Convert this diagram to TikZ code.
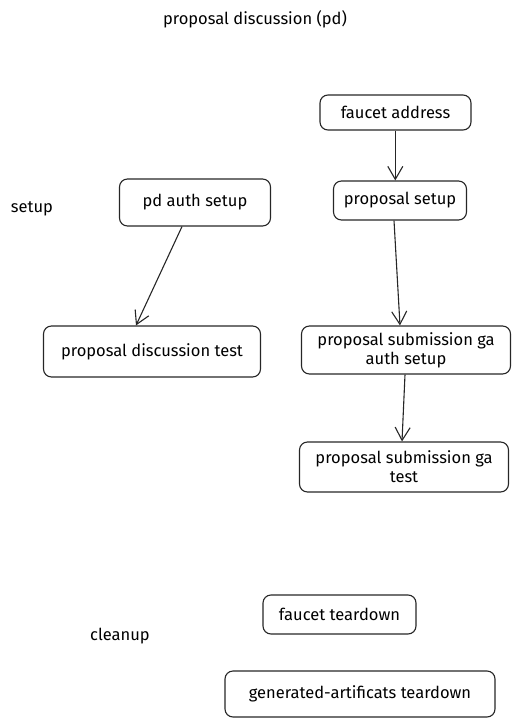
\documentclass[tikz,border=0pt]{standalone}
\usepackage{fontspec}
\setmainfont{Fira Sans}
\usetikzlibrary{arrows.meta}
\begin{document}
\begin{tikzpicture}[x=1pt,y=-1pt,
  box/.style={draw=black!85,line width=1.1pt,rounded corners=8pt,align=center,font=\fontsize{16.5}{19}\selectfont,inner sep=0pt},
  lbl/.style={font=\fontsize{16.5}{19}\selectfont},
  conn/.style={draw=black!85,line width=1.1pt,-{Straight Barb[length=13pt,width=15pt,line width=1.1pt]}}]
\useasboundingbox (0,0) rectangle (521,727);
\node[lbl] (title) at (255,19) {proposal discussion (pd)};
\node[lbl] (setup) at (32,209) {setup};
\node[lbl] (cleanup) at (120,636) {cleanup};
\node[box,minimum width=151pt,minimum height=35pt] (fa) at (395.5,112.5) {faucet address};
\node[box,minimum width=133pt,minimum height=39pt] (ps) at (400,200.5) {proposal setup};
\node[box,minimum width=151pt,minimum height=47pt] (pda) at (195,202.5) {pd auth setup};
\node[box,minimum width=217pt,minimum height=51pt] (pdt) at (152,351.5) {proposal discussion test};
\node[box,minimum width=209pt,minimum height=48pt] (psga) at (406,350) {proposal submission ga\\auth setup};
\node[box,minimum width=209pt,minimum height=50pt] (psgt) at (404,467) {proposal submission ga\\test};
\node[box,minimum width=153pt,minimum height=39pt] (ft) at (339.5,614.5) {faucet teardown};
\node[box,minimum width=270pt,minimum height=46pt] (gat) at (360,694) {generated-artificats teardown};
\draw[conn] (fa.south -| 395.3,0) -- (ps.north -| 395.3,0);
\draw[conn] (ps.south -| 394,0) -- (psga.north -| 400,0);
\draw[conn] (pda.south -| 182,0) -- (pdt.north -| 136,0);
\draw[conn] (psga.south -| 405,0) -- (psgt.north -| 402,0);
\end{tikzpicture}
\end{document}
